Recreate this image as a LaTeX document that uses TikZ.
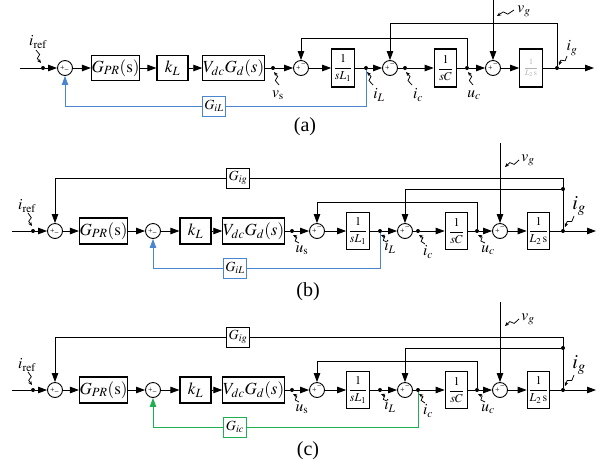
\documentclass[tikz,border=0pt]{standalone}
\usepackage{mathptmx}
\usepackage{fontspec}
\setmainfont{Liberation Serif}
\usetikzlibrary{arrows.meta,calc}
\definecolor{fbblue}{RGB}{74,134,208}
\definecolor{fbgreen}{RGB}{30,176,80}
\newcommand\lbar[2]{\draw[lbarst] (#1) -- ($(#1)!0.4!(#2)!1.8pt!90:(#2)$) -- ($(#1)!0.6!(#2)!1.8pt!-90:(#2)$) -- (#2);}
\newcommand\bcpart[3]{%
  \coordinate (in) at (12,231);
  \node[dotn] (d0) at (33,231) {};
  \node[sumbot] (s1) at (55,231) {};
  \node[blk, minimum width=47pt, minimum height=26pt, bfont] (gpr) at (103.5,231) {$G_{PR}(\mathrm{s})$};
  \node[sumbot] (sk) at (153,231) {};
  \node[blk, minimum width=31pt, minimum height=26pt, bfont] (kl) at (195.5,231) {$k_L$};
  \node[blk, minimum width=59pt, minimum height=26pt, bfont] (vdc) at (253.5,231) {$V_{dc}G_d(s)$};
  \node[dotn] (dvs) at (292,231) {};
  \node[sumtop] (s2) at (317,231) {};
  \node[fblk] (l1) at (358,231) {$\displaystyle\frac{1}{sL_1}$};
  \node[dotn] (diL) at (380,231) {};
  \node[sumtop] (s3) at (405,231) {};
  \node[dotn] (dic) at (418,231) {};
  \node[fblk] (c) at (456.5,231) {$\displaystyle\frac{1}{sC}$};
  \node[dotn] (duc) at (477,231) {};
  \node[sumtop] (s4) at (500,231) {};
  \node[fblk] (l2) at (538.5,231) {$\displaystyle\frac{1}{L_2\,\mathrm{s}}$};
  \node[dotn] (dig) at (563,231) {};
  \node[dotn] (dj) at (563,189) {};
  \coordinate (out) at (596,231);
  \coordinate (vgt) at (500,143);
  \node[gblk] (gig) at (238,178) {$G_{ig}$};
  \node[gblk, draw=#1] (fb) at (235,268) {#3};
  \draw[ln] (in) -- (d0);
  \draw[arr] (d0) -- (s1);
  \draw[arr] (s1) -- (gpr);
  \draw[arr] (gpr) -- (sk);
  \draw[arr] (sk) -- (kl);
  \draw[arr] (kl) -- (vdc);
  \draw[ln] (vdc) -- (dvs);
  \draw[arr] (dvs) -- (s2);
  \draw[arr] (s2) -- (l1);
  \draw[ln] (l1) -- (diL);
  \draw[arr] (diL) -- (s3);
  \draw[ln] (s3) -- (dic);
  \draw[arr] (dic) -- (c);
  \draw[ln] (c) -- (duc);
  \draw[arr] (duc) -- (s4);
  \draw[arr] (s4) -- (l2);
  \draw[ln] (l2) -- (dig);
  \draw[arr] (dig) -- (out);
  \draw[arr] (duc) -- ++(0,-29) -| (s2);
  \draw[ln] (dig) |- (gig);
  \draw[arr] (gig) -| (s1);
  \draw[arr] (dj) -| (s3);
  \draw[arr] (vgt) -- (s4);
  \draw[ln, color=#1] (#2) |- (fb);
  \draw[arr, color=#1] (fb) -| (sk);
  \node[lbl] (liref) at (27,206) {$i_{\mathrm{ref}}$};
  \node[lbl] (lus) at (302,250) {$u_{\mathrm{s}}$};
  \node[lbl] (liL) at (390,247) {$i_L$};
  \node[lbl] (lic) at (428,252) {$i_c$};
  \node[lbl] (luc) at (488,250) {$u_c$};
  \node[lbl] (lvg) at (528,160) {$v_g$};
  \node[lbl, font=\fontsize{20}{22}\selectfont] (lig) at (579,206) {$i_g$};
  \coordinate (t1) at (28,213); \coordinate (e1) at (32,226);
  \coordinate (t2) at (299,243); \coordinate (e2) at (293,235);
  \coordinate (t3) at (387,242); \coordinate (e3) at (381,235);
  \coordinate (t4) at (425,244); \coordinate (e4) at (419,235);
  \coordinate (t5) at (485,243); \coordinate (e5) at (478,235);
  \coordinate (t6) at (519,160); \coordinate (e6) at (505,167);
  \coordinate (t7) at (574,216); \coordinate (e7) at (565,227);
  \lbar{t1}{e1}\lbar{t2}{e2}\lbar{t3}{e3}\lbar{t4}{e4}\lbar{t5}{e5}\lbar{t6}{e6}\lbar{t7}{e7}
}
\begin{document}
\begin{tikzpicture}[x=1pt,y=-1pt,
  ln/.style={line width=0.85pt},
  arr/.style={line width=0.85pt,-{Triangle[length=9pt,width=6.5pt]}},
  blk/.style={draw,line width=1.2pt,inner sep=0pt,fill=white},
  bfont/.style={font=\fontsize{17}{19}\selectfont},
  fblk/.style={blk,minimum width=22.5pt,minimum height=37pt,font=\fontsize{12}{14}\selectfont},
  gblk/.style={draw,line width=1pt,inner sep=0pt,fill=white,minimum width=23pt,minimum height=20pt,font=\fontsize{14}{16}\selectfont},
  sumc/.style={circle,draw,line width=0.9pt,minimum size=15pt,inner sep=0pt},
  sgn/.style={font=\fontsize{8}{8}\selectfont,inner sep=0pt},
  sumtop/.style={sumc,label={[sgn,xshift=-2.6pt,yshift=0pt]center:+},label={[sgn,xshift=2.3pt,yshift=2.6pt]center:−}},
  sumbot/.style={sumc,label={[sgn,xshift=-2.6pt,yshift=0pt]center:+},label={[sgn,xshift=1.6pt,yshift=-3.2pt]center:−}},
  dotn/.style={circle,fill,inner sep=0pt,minimum size=4pt},
  lbl/.style={font=\fontsize{15.5}{17}\selectfont,inner sep=0pt},
  lbarst/.style={line width=0.75pt,-{Stealth[length=4pt,width=3.5pt]}},
  captxt/.style={font=\fontsize{20}{22}\selectfont,inner sep=0pt}]
\useasboundingbox (0,0) rectangle (608,475);
% ---------------- (a) ----------------
\coordinate (a-in) at (20,68);
\node[dotn] (a-d0) at (43,68) {};
\node[sumbot] (a-s1) at (65,68) {};
\node[blk, minimum width=47pt, minimum height=25pt, bfont] (a-gpr) at (115.5,68) {$G_{PR}(\mathrm{s})$};
\node[blk, minimum width=31pt, minimum height=25pt, bfont] (a-kl) at (172.5,68) {$k_L$};
\node[blk, minimum width=61pt, minimum height=25pt, bfont] (a-vdc) at (233.5,68) {$V_{dc}G_d(s)$};
\node[dotn] (a-dvs) at (273,68) {};
\node[sumtop] (a-s2) at (301,68) {};
\node[fblk, minimum height=38pt] (a-l1) at (343,68) {$\displaystyle\frac{1}{sL_1}$};
\node[dotn] (a-diL) at (366,68) {};
\node[sumtop] (a-s3) at (390,68) {};
\node[dotn] (a-dic) at (405,68) {};
\node[fblk, minimum height=38pt] (a-c) at (445.5,68) {$\displaystyle\frac{1}{sC}$};
\node[dotn] (a-duc) at (467,68) {};
\node[sumtop] (a-s4) at (493,68) {};
\node[fblk, minimum height=38pt, text=black!30, font=\fontsize{8}{10}\selectfont] (a-l2) at (531,68) {$\displaystyle\frac{1}{L_2\,\mathrm{s}}$};
\node[dotn] (a-dig) at (557,68) {};
\coordinate (a-out) at (594,68);
\coordinate (a-vgt) at (493,0);
\node[gblk, draw=fbblue] (a-giL) at (214,106) {$G_{iL}$};
\draw[ln] (a-in) -- (a-d0);
\draw[arr] (a-d0) -- (a-s1);
\draw[arr] (a-s1) -- (a-gpr);
\draw[arr] (a-gpr) -- (a-kl);
\draw[arr] (a-kl) -- (a-vdc);
\draw[ln] (a-vdc) -- (a-dvs);
\draw[arr] (a-dvs) -- (a-s2);
\draw[arr] (a-s2) -- (a-l1);
\draw[ln] (a-l1) -- (a-diL);
\draw[arr] (a-diL) -- (a-s3);
\draw[ln] (a-s3) -- (a-dic);
\draw[arr] (a-dic) -- (a-c);
\draw[ln] (a-c) -- (a-duc);
\draw[arr] (a-duc) -- (a-s4);
\draw[arr] (a-s4) -- (a-l2);
\draw[ln] (a-l2) -- (a-dig);
\draw[arr] (a-dig) -- (a-out);
\draw[arr] (a-duc) -- ++(0,-30) -| (a-s2);
\draw[arr] (a-dig) -- ++(0,-45) -| (a-s3);
\draw[arr] (a-vgt) -- (a-s4);
\draw[ln, color=fbblue] (a-diL) |- (a-giL);
\draw[arr, color=fbblue] (a-giL) -| (a-s1);
\node[lbl] (a-liref) at (38,42) {$i_{\mathrm{ref}}$};
\node[lbl] (a-lvs) at (278,95) {$v_{\mathrm{s}}$};
\node[lbl] (a-liL) at (379,95) {$i_L$};
\node[lbl] (a-lic) at (418,95) {$i_c$};
\node[lbl] (a-luc) at (474,95) {$u_c$};
\node[lbl] (a-lvg) at (524,11) {$v_g$};
\node[lbl] (a-lig) at (572,48) {$i_g$};
\coordinate (a-t1) at (36,50); \coordinate (a-e1) at (41,63);
\coordinate (a-t2) at (279,85); \coordinate (a-e2) at (274,72);
\coordinate (a-t3) at (373,85); \coordinate (a-e3) at (367,72);
\coordinate (a-t4) at (412,85); \coordinate (a-e4) at (406,72);
\coordinate (a-t5) at (473,85); \coordinate (a-e5) at (468,72);
\coordinate (a-t6) at (514,10); \coordinate (a-e6) at (497,16);
\coordinate (a-t7) at (567,56); \coordinate (a-e7) at (559,65);
\lbar{a-t1}{a-e1}\lbar{a-t2}{a-e2}\lbar{a-t3}{a-e3}\lbar{a-t4}{a-e4}\lbar{a-t5}{a-e5}\lbar{a-t6}{a-e6}\lbar{a-t7}{a-e7}
\node[captxt] (capa) at (305,127) {(a)};
% ---------------- (b) ----------------
\begin{scope}[name prefix=b-]
\bcpart{fbblue}{diL}{$G_{iL}$}
\node[captxt] (capb) at (308,292) {(b)};
\end{scope}
% ---------------- (c) ----------------
\begin{scope}[yshift=-159pt, name prefix=c-]
\bcpart{fbgreen}{dic}{$G_{ic}$}
\node[captxt] (capc) at (308,292) {(c)};
\end{scope}
\end{tikzpicture}
\end{document}
